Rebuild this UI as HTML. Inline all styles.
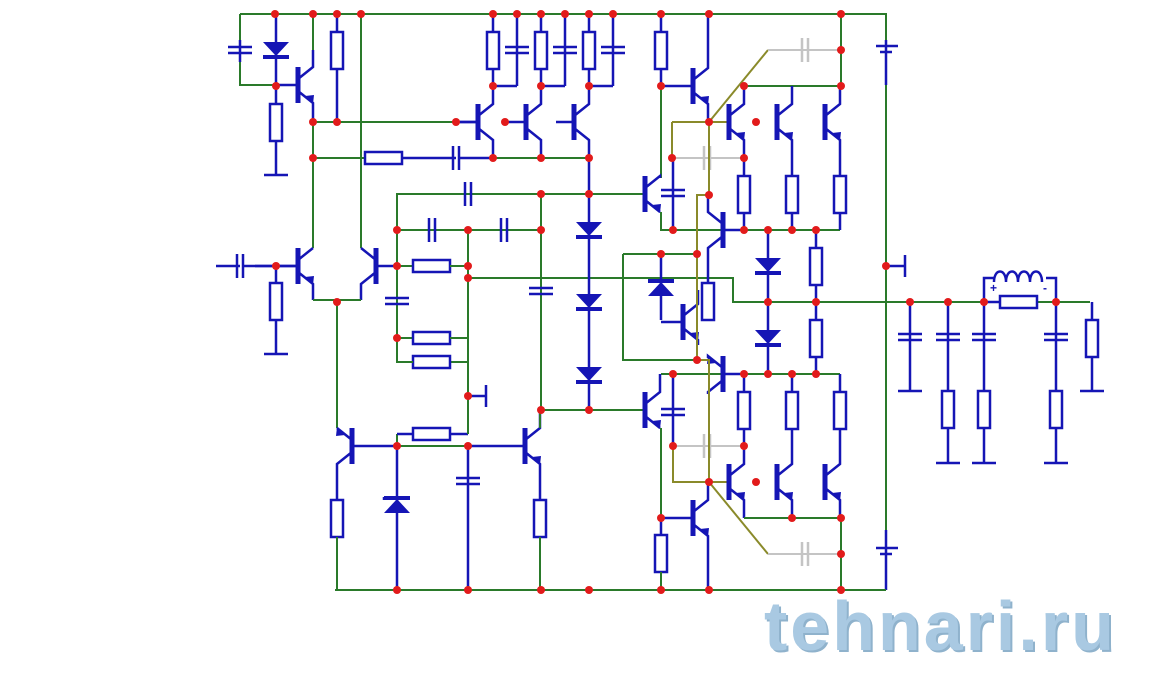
<!DOCTYPE html>
<html><head><meta charset="utf-8"><style>
html,body{margin:0;padding:0;background:#fff;width:1164px;height:684px;overflow:hidden}
svg{position:absolute;left:0;top:0}
.wm{position:absolute;left:764px;top:586px;font:bold 70px "Liberation Sans",sans-serif;letter-spacing:3px;color:#a9c9e2;text-shadow:2px 2px 0 #8fb2cc;}
</style></head><body>
<svg id="s" width="1164" height="684" viewBox="0 0 1164 684">
<text x="990" y="292" font-family="Liberation Sans,sans-serif" font-size="12" font-weight="bold" fill="#1515b5">+</text>
<text x="1043" y="292" font-family="Liberation Sans,sans-serif" font-size="12" font-weight="bold" fill="#1515b5">-</text>
</svg>
<div class="wm">tehnari.ru</div>
<script>
var s=document.getElementById('s'),NS='http://www.w3.org/2000/svg';
var G='#2a7a2a',B='#1515b5',O='#8a8a2a',GR='#c4c4c4';
function el(t,a){var e=document.createElementNS(NS,t);for(var k in a)e.setAttribute(k,a[k]);s.appendChild(e);return e;}
function L(p,c,w){el('polyline',{points:p,fill:'none',stroke:c||G,'stroke-width':w||2});}
function W(p){L(p,G,2);} function Bl(p){L(p,B,2.5);}
function R(x,y,h){ if(h){el('rect',{x:x,y:y-6,width:37,height:12,fill:'#fff',stroke:B,'stroke-width':2.5});}
 else el('rect',{x:x-6,y:y,width:12,height:37,fill:'#fff',stroke:B,'stroke-width':2.5});}
function C(x,y,h,c){c=c||B; if(h){L((x-3)+','+(y-12)+' '+(x-3)+','+(y+12),c,2.5);L((x+3)+','+(y-12)+' '+(x+3)+','+(y+12),c,2.5);}
 else{L((x-12)+','+(y-3)+' '+(x+12)+','+(y-3),c,2.5);L((x-12)+','+(y+3)+' '+(x+12)+','+(y+3),c,2.5);}}
function D(x,y,up){ if(!up){el('polygon',{points:(x-13)+','+(y-8)+' '+(x+13)+','+(y-8)+' '+x+','+(y+6),fill:B});L((x-13)+','+(y+7)+' '+(x+13)+','+(y+7),B,4);}
 else{el('polygon',{points:(x-13)+','+(y+8)+' '+(x+13)+','+(y+8)+' '+x+','+(y-6),fill:B});L((x-13)+','+(y-7)+' '+(x+13)+','+(y-7),B,4);}}
function Q(bx,by,side,ty,byy,bl,earrow){
 var lx=bx+side*15;
 L(bx+','+(by-18)+' '+bx+','+(by+18),B,5);
 Bl(bx+','+(by-6)+' '+lx+','+(by-18)+' '+lx+','+ty);
 Bl(bx+','+(by+6)+' '+lx+','+(by+18)+' '+lx+','+byy);
 if(bl!==undefined)Bl(bx+','+by+' '+bl+','+by);
 var ey=earrow>0?by+15:by-15, ex=bx+side*11;
 el('polygon',{points:(ex-4)+','+(ey-4)+' '+(ex+4)+','+(ey+4)+' '+(ex+side*5)+','+(ey+(earrow>0?-5:5)),fill:B});
}
function dot(x,y){el('circle',{cx:x,cy:y,r:4,fill:'#e21b1b'});}
function gnd(x,y,h){ if(h) Bl(x+','+(y-11)+' '+x+','+(y+11)); else Bl((x-12)+','+y+' '+(x+12)+','+y);}

W('240,14 886,14 886,40'); Bl('886,40 886,85'); L('876,46 898,46',B,2.5);L('880,52 892,52',B,2.5);
W('886,85 886,530'); Bl('886,530 886,590'); L('876,548 898,548',B,2.5);L('880,554 892,554',B,2.5);
W('335,590 886,590');
Bl('886,266 905,266'); gnd(905,266,1);

W('240,14 240,40');Bl('240,40 240,62');C(240,50);W('240,62 240,85 276,85');
Bl('276,14 276,85');D(276,50);Bl('276,85 298,85');Bl('276,85 276,175');R(276,104);gnd(276,175);
Q(298,85,1,50,122,undefined,1);W('313,14 313,50');
Bl('337,14 337,122');R(337,32);
W('313,122 456,122');Bl('456,122 478,122');
W('313,122 313,248');W('313,158 365,158');R(365,158,1);Bl('402,158 456,158');C(456,158,1);Bl('459,158 493,158');W('493,158 589,158');
[478,526,574].forEach(function(bx,i){var x=bx+15;Q(bx,122,1,86,158,bx-18,-1);Bl(x+',14 '+x+',86');R(x,32);
 var cx=x+24;Bl(cx+',14 '+cx+',86');C(cx,50);Bl(x+',86 '+cx+',86');});
W('361,14 361,248');
Q(298,266,1,248,300,255,1);Bl('216,266 240,266');C(240,266,1);Bl('243,266 298,266');
Bl('276,266 276,354');R(276,283);gnd(276,354);
Q(376,266,-1,248,300,397,1);W('313,300 361,300');
W('337,300 337,428');
Q(352,446,-1,428,465,397,-1);Bl('337,465 337,500');R(337,500);W('337,537 337,590');
W('397,446 525,446');Bl('397,446 397,590');D(397,505,1);Bl('384,497 384,500');
W('397,446 397,434');Bl('397,434 413,434');R(413,434,1);Bl('450,434 468,434');W('468,434 468,338');
Bl('468,446 468,590');C(468,481);
Bl('468,396 486,396');gnd(486,396,1);
W('468,362 450,362');R(413,362,1);W('413,362 397,362 397,194 588,194');
W('397,338 413,338');R(413,338,1);W('450,338 468,338 468,278');
C(468,194,1);W('397,230 541,230');C(432,230,1);C(504,230,1);
W('468,230 468,278');W('397,266 413,266');R(413,266,1);W('450,266 468,266');
W('468,278 733,278 733,302 1090,302');
C(397,301);
Q(525,446,1,410,465,468,1);W('540,410 540,428');Bl('540,465 540,500');R(540,500);W('540,537 540,590');
W('541,194 541,410');C(541,291);W('541,410 645,410');
Bl('589,158 589,410');D(589,230);D(589,302);D(589,375);W('589,194 645,194');
Bl('661,14 661,86');R(661,32);Bl('661,86 693,86');Q(693,86,1,14,122,undefined,1);
W('661,86 661,178');Q(645,194,1,178,212,undefined,1);W('661,212 661,230 840,230');
Bl('673,158 673,230');C(673,193);
L('672,122 729,122',O,2);L('672,122 672,158',O,2);L('709,122 768,50',O,2);
L('768,50 841,50',GR,2);C(805,50,1,GR);W('841,14 841,86');
L('672,158 744,158',GR,2);C(707,158,1,GR);
W('744,86 841,86');
[729,777,825].forEach(function(bx){var x=bx+15;Q(bx,122,1,86,158,undefined,1);Bl(x+',158 '+x+',230');R(x,176);});
L('709,122 709,195 697,195 697,290',O,2);
Q(723,230,-1,195,250,740,1);Bl('708,250 708,283');R(708,283);
Bl('768,230 768,374');D(768,266);D(768,338);Bl('816,230 816,374');R(816,248);R(816,320);
W('623,254 697,254');W('623,254 623,360 697,360');Bl('661,254 661,320');D(661,288,1);
Q(683,322,1,290,345,661,1);
Bl('910,302 910,391');C(910,337);gnd(910,391);
[948,984,1056].forEach(function(x){Bl(x+',302 '+x+',463');C(x,337);R(x,391);gnd(x,463);});
Bl('1092,302 1092,391');R(1092,320);gnd(1092,391);
Bl('984,302 984,278 994,278');Bl('1046,278 1056,278 1056,302');
el('path',{d:'M994,282 c0,-14 12,-14 12,0 c0,-14 12,-14 12,0 c0,-14 12,-14 12,0 c0,-14 12,-14 12,0',fill:'none',stroke:B,'stroke-width':2.5});
Bl('984,302 1000,302');R(1000,302,1);
W('661,374 840,374');
Q(723,374,-1,358,394,740,-1);
Q(645,410,1,374,428,undefined,1);W('661,428 661,518');Bl('661,518 661,535');R(661,535);W('661,572 661,590');
Bl('673,374 673,446');C(673,412);
L('673,446 744,446',GR,2);C(707,446,1,GR);L('673,446 673,482 729,482',O,2);
L('697,290 697,360 709,360 709,482',O,2);
[729,777,825].forEach(function(bx){var x=bx+15;Q(bx,482,1,446,518,undefined,1);Bl(x+',374 '+x+',446');R(x,392);});
W('744,518 841,518 841,590');
L('709,482 768,554',O,2);L('768,554 841,554',GR,2);C(805,554,1,GR);
Bl('661,518 693,518');Q(693,518,1,482,590,undefined,1);
[[275,14],[313,14],[337,14],[361,14],[493,14],[517,14],[541,14],[565,14],[589,14],[613,14],[661,14],[709,14],[841,14],
[276,86],[493,86],[541,86],[589,86],[313,122],[337,122],[456,122],[505,122],[313,158],[493,158],[541,158],[589,158],
[589,194],[541,194],[397,230],[468,230],[541,230],[276,266],[397,266],[468,266],[468,278],[337,302],[397,338],
[468,396],[397,446],[468,446],[541,410],[589,410],[397,590],[468,590],[541,590],[589,590],[661,590],[709,590],[841,590],
[661,86],[709,122],[756,122],[841,50],[744,86],[841,86],[672,158],[744,158],[709,195],[673,230],[744,230],[768,230],[792,230],[816,230],
[697,254],[661,254],[886,266],[768,302],[816,302],[910,302],[948,302],[984,302],[1056,302],[697,360],
[673,374],[744,374],[768,374],[792,374],[816,374],[673,446],[744,446],[709,482],[756,482],[792,518],[841,518],[841,554],[661,518]
].forEach(function(p){dot(p[0],p[1]);});
</script>
</body></html>
